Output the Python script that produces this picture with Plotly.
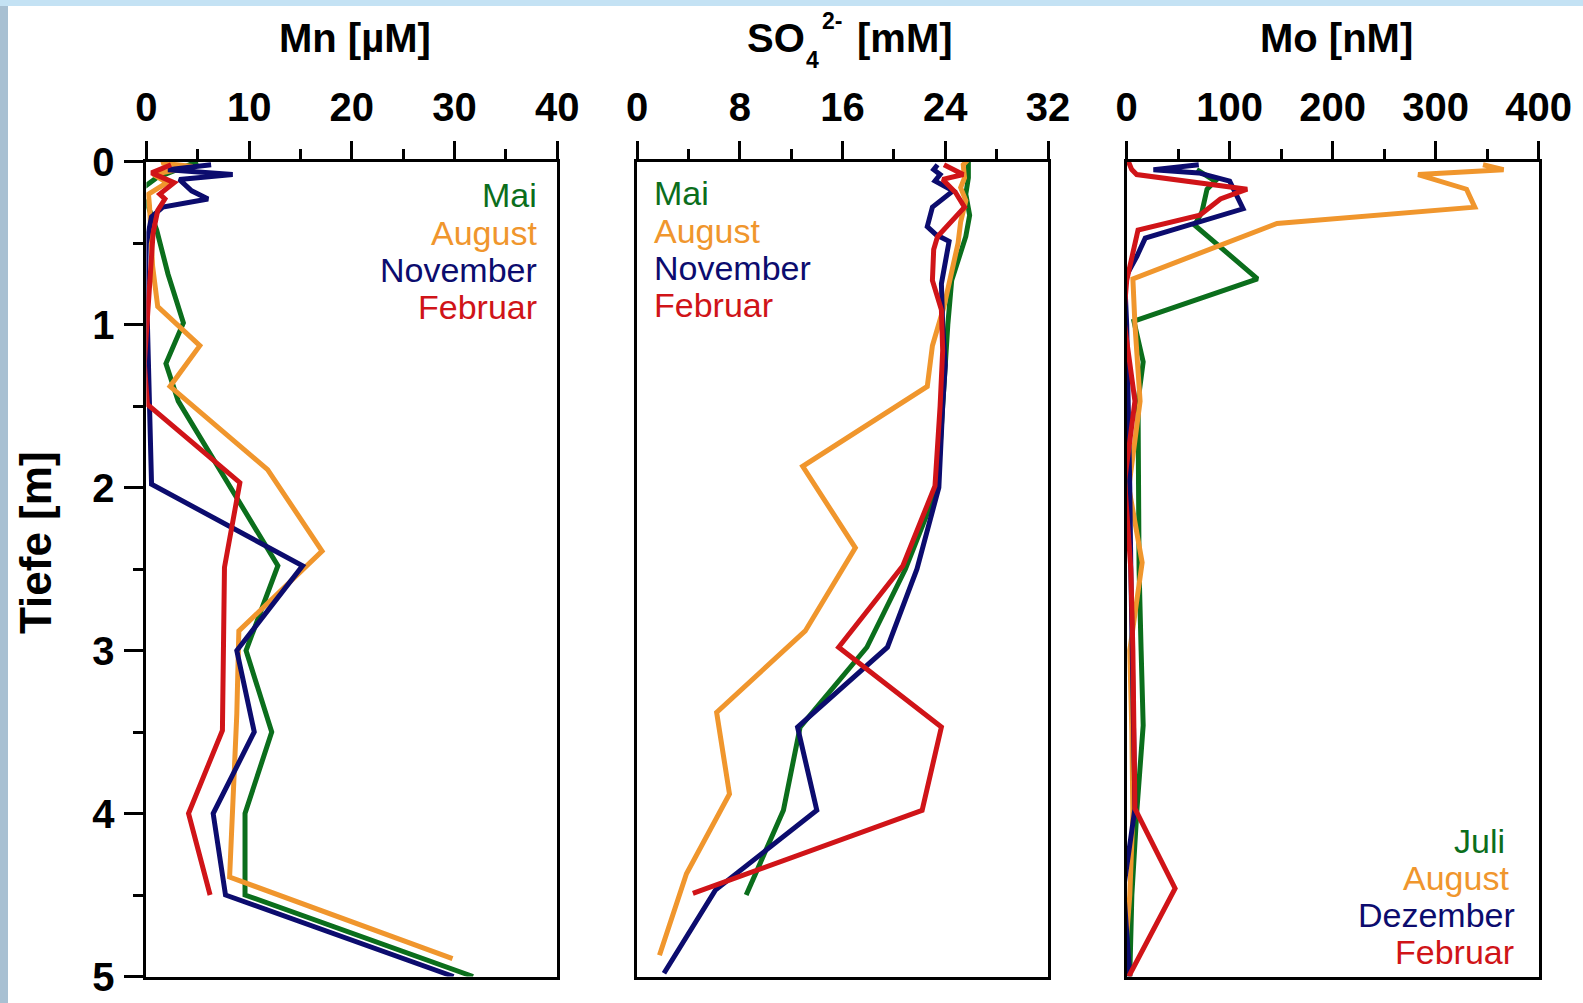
import plotly.graph_objects as go

W, H = 1583, 1003

# ---------------- colours ----------------
C_GREEN = "#0b6e1c"
C_ORANGE = "#f0962d"
C_NAVY = "#0c0c6e"
C_RED = "#d01418"

# ---------------- Mn [µM] ----------------
mn_mai_depth = [0.0, 0.1, 0.17, 0.23, 0.28, 0.42, 0.69, 0.99, 1.24, 1.47, 2.48, 3.0, 3.5, 4.0, 4.5, 5.0]
mn_mai = [5.0, 1.0, -0.5, -0.3, 0.2, 1.0, 2.1, 3.6, 1.9, 3.1, 12.8, 9.7, 12.2, 9.6, 9.6, 31.8]

mn_aug_depth = [-0.03, 0.01, 0.03, 0.08, 0.13, 0.2, 0.27, 0.64, 0.89, 1.13, 1.38, 1.89, 2.39, 2.88, 3.39, 3.89, 4.39, 4.89]
mn_aug = [2.3, 1.5, 4.5, 0.7, 2.0, 0.2, 0.3, 0.6, 1.1, 5.2, 2.3, 11.8, 17.1, 9.0, 8.8, 8.5, 8.1, 29.8]

mn_nov_depth = [0.02, 0.05, 0.08, 0.11, 0.18, 0.23, 0.28, 0.34, 0.5, 0.75, 1.0, 1.25, 1.5, 1.98, 2.48, 3.0, 3.5, 4.0, 4.5, 5.0]
mn_nov = [6.3, 2.1, 8.4, 3.2, 4.4, 6.0, 1.6, 0.5, 0.0, -0.1, 0.1, 0.2, 0.2, 0.5, 15.2, 8.8, 10.5, 6.5, 7.7, 29.9]

mn_feb_depth = [0.02, 0.07, 0.13, 0.2, 0.23, 0.3, 0.44, 0.75, 1.0, 1.24, 1.49, 1.97, 2.49, 3.0, 3.49, 4.0, 4.5]
mn_feb = [2.4, 0.5, 2.7, 1.3, 1.8, 1.1, 0.65, 0.3, 0.1, -0.2, 0.1, 9.1, 7.6, 7.5, 7.4, 4.1, 6.2]

# ---------------- SO4 [mM] ----------------
so4_mai_depth = [0.0, 0.1, 0.2, 0.33, 0.46, 0.73, 1.0, 1.25, 1.5, 2.0, 2.5, 2.98, 3.47, 3.98, 4.5]
so4_mai = [25.8, 25.8, 25.6, 25.9, 25.6, 24.5, 24.2, 24.0, 23.8, 23.4, 20.9, 17.9, 12.7, 11.4, 8.5]

so4_aug_depth = [-0.03, 0.02, 0.1, 0.16, 0.24, 0.37, 0.5, 0.64, 0.89, 1.13, 1.38, 1.87, 2.37, 2.88, 3.38, 3.88, 4.37, 4.87]
so4_aug = [26.0, 25.4, 25.5, 25.2, 25.6, 25.2, 25.0, 24.6, 23.9, 23.0, 22.6, 12.9, 17.0, 13.1, 6.2, 7.2, 3.85, 1.75]

so4_nov_depth = [0.02, 0.05, 0.08, 0.12, 0.18, 0.28, 0.4, 0.45, 0.49, 0.75, 1.0, 1.25, 1.5, 2.0, 2.5, 2.98, 3.47, 3.98, 4.47, 4.98]
so4_nov = [23.4, 23.1, 23.6, 23.2, 24.6, 23.0, 22.6, 23.3, 24.3, 23.7, 23.8, 24.0, 23.8, 23.5, 21.8, 19.5, 12.5, 14.0, 6.1, 2.1]

so4_feb_depth = [0.02, 0.08, 0.11, 0.19, 0.28, 0.46, 0.54, 0.73, 0.91, 1.16, 1.5, 1.99, 2.48, 2.98, 3.47, 3.98, 4.49]
so4_feb = [23.9, 25.4, 23.8, 24.8, 25.5, 23.4, 23.1, 23.0, 23.7, 23.8, 23.6, 23.2, 20.7, 15.7, 23.7, 22.2, 4.35]

# ---------------- Mo [nM] ----------------
mo_jul_depth = [0.05, 0.12, 0.17, 0.31, 0.39, 0.72, 0.98, 1.23, 1.47, 2.0, 2.5, 3.0, 3.46, 3.97, 4.5, 5.0]
mo_jul = [68, 86, 78, 73, 66, 127, 7, 16, 11, 11, 12, 14, 16, 10, 5, 3]

mo_aug_depth = [0.02, 0.05, 0.08, 0.17, 0.28, 0.38, 0.72, 1.0, 1.47, 2.0, 2.46, 3.0, 3.5, 4.0, 4.5, 5.0]
mo_aug = [346, 366, 283, 330, 338, 146, 6, 8, 13, 2, 15, 3, 5, 6, 3, -3]

mo_dez_depth = [0.02, 0.05, 0.07, 0.12, 0.29, 0.47, 0.58, 0.72, 1.0, 1.5, 2.0, 2.5, 3.0, 3.5, 3.97, 4.46, 5.0]
mo_dez = [70, 26, 70, 100, 113, 18, 10, -2, 0, 2, 3, 4, 5, 6, 8, -3, 3]

mo_feb_depth = [0.0, 0.05, 0.08, 0.17, 0.23, 0.33, 0.42, 0.73, 0.96, 1.47, 1.96, 2.5, 3.0, 3.5, 3.97, 4.46, 5.0]
mo_feb = [1.6, 4.9, 9.7, 117, 91, 71, 11, 0, -3, 8, -2, 4, 6, 7, 8, 47, 2]

# ---------------- axis settings ----------------
x_ranges = [[0, 40], [0, 32], [0, 400]]
x_dticks = [10, 8, 100]
y_range = [5, 0]
legend_left = ["Mai", "August", "November", "Februar"]
legend_right = ["Juli", "August", "Dezember", "Februar"]
legend_colors = [C_GREEN, C_ORANGE, C_NAVY, C_RED]


def px(x):
    return x / W


def py(y):
    return 1 - y / H


x_domains = [[px(146.4), px(557.3)], [px(637.0), px(1048.0)], [px(1126.7), px(1538.6)]]
y_domain = [py(976.5), py(161.5)]

fig = go.Figure()

series = [
    [(mn_mai, mn_mai_depth, C_GREEN), (mn_aug, mn_aug_depth, C_ORANGE),
     (mn_nov, mn_nov_depth, C_NAVY), (mn_feb, mn_feb_depth, C_RED)],
    [(so4_mai, so4_mai_depth, C_GREEN), (so4_aug, so4_aug_depth, C_ORANGE),
     (so4_nov, so4_nov_depth, C_NAVY), (so4_feb, so4_feb_depth, C_RED)],
    [(mo_jul, mo_jul_depth, C_GREEN), (mo_aug, mo_aug_depth, C_ORANGE),
     (mo_dez, mo_dez_depth, C_NAVY), (mo_feb, mo_feb_depth, C_RED)],
]

for i, panel in enumerate(series):
    xa = "x" if i == 0 else f"x{i+1}"
    ya = "y" if i == 0 else f"y{i+1}"
    for vals, depth, col in panel:
        fig.add_trace(go.Scatter(x=vals, y=depth, mode="lines", xaxis=xa, yaxis=ya,
                                 line=dict(color=col, width=5), showlegend=False,
                                 hoverinfo="skip"))

FONT = "Liberation Sans, Arial, sans-serif"
tickfont = dict(family=FONT, size=40, color="black", weight="bold")

layout = dict(width=W, height=H, margin=dict(l=0, r=0, t=0, b=0, autoexpand=False),
              paper_bgcolor="white", plot_bgcolor="white", showlegend=False)

for i in range(3):
    xk = "xaxis" if i == 0 else f"xaxis{i+1}"
    yk = "yaxis" if i == 0 else f"yaxis{i+1}"
    ya = "y" if i == 0 else f"y{i+1}"
    xa = "x" if i == 0 else f"x{i+1}"
    layout[xk] = dict(domain=x_domains[i], range=x_ranges[i], anchor=ya, side="top",
                      automargin=False,
                      dtick=x_dticks[i], tick0=0, ticks="outside", ticklen=18, tickwidth=3,
                      tickcolor="black", showline=True, linewidth=3, linecolor="black",
                      mirror=True, showgrid=False, zeroline=False, tickfont=tickfont,
                      ticklabelstandoff=4,
                      minor=dict(ticks="outside", ticklen=10, tickwidth=3, tickcolor="black",
                                 dtick=x_dticks[i] / 2, showgrid=False))
    ydict = dict(domain=y_domain, range=y_range, anchor=xa, showline=True, linewidth=3,
                 automargin=False,
                 linecolor="black", mirror=True, showgrid=False, zeroline=False)
    if i == 0:
        ydict.update(dict(dtick=1, tick0=0, ticks="outside", ticklen=19, tickwidth=3,
                          tickcolor="black", tickfont=tickfont, ticklabelstandoff=2,
                          minor=dict(ticks="outside", ticklen=10, tickwidth=3,
                                     tickcolor="black", dtick=0.5, showgrid=False)))
    else:
        ydict.update(dict(ticks="", showticklabels=False))
    layout[yk] = ydict

fig.update_layout(**layout)

# ---------------- titles ----------------
title_font = dict(family=FONT, size=40, color="black", weight="bold")
small_font = dict(family=FONT, size=23, color="black", weight="bold")
ann = []
ann.append(dict(text="Mn [µM]", x=px(355), y=py(38), xref="paper", yref="paper",
                showarrow=False, font=title_font, xanchor="center", yanchor="middle"))
ann.append(dict(text="SO", x=px(807), y=py(38), xref="paper", yref="paper",
                showarrow=False, font=title_font, xanchor="right", yanchor="middle"))
ann.append(dict(text="4", x=px(804), y=py(60), xref="paper", yref="paper",
                showarrow=False, font=small_font, xanchor="left", yanchor="middle"))
ann.append(dict(text="2-", x=px(820), y=py(21), xref="paper", yref="paper",
                showarrow=False, font=small_font, xanchor="left", yanchor="middle"))
ann.append(dict(text="[mM]", x=px(855), y=py(38), xref="paper", yref="paper",
                showarrow=False, font=title_font, xanchor="left", yanchor="middle"))
ann.append(dict(text="Mo [nM]", x=px(1336), y=py(38), xref="paper", yref="paper",
                showarrow=False, font=title_font, xanchor="center", yanchor="middle"))
ann.append(dict(text="Tiefe [m]", x=px(35), y=py(543), xref="paper", yref="paper",
                showarrow=False, font=dict(family=FONT, size=44, color="black", weight="bold"),
                textangle=-90, xanchor="center", yanchor="middle"))

# ---------------- legend texts ----------------
left_y = [195, 233, 270, 307]
for txt, col, yy in zip(legend_left, legend_colors, left_y):
    ann.append(dict(text=txt, x=px(539), y=py(yy), xref="paper", yref="paper", showarrow=False,
                    font=dict(family=FONT, size=34, color=col),
                    xanchor="right", yanchor="middle"))
    ann.append(dict(text=txt, x=px(652), y=py(yy - 2), xref="paper", yref="paper", showarrow=False,
                    font=dict(family=FONT, size=34, color=col),
                    xanchor="left", yanchor="middle"))
right_y = [841, 878, 915, 952]
right_x = [1507, 1511, 1517, 1516]
for txt, col, yy, xx in zip(legend_right, legend_colors, right_y, right_x):
    ann.append(dict(text=txt, x=px(xx), y=py(yy), xref="paper", yref="paper", showarrow=False,
                    font=dict(family=FONT, size=34, color=col),
                    xanchor="right", yanchor="middle"))

# ---------------- background strips (slide background) ----------------
shapes = [
    dict(type="rect", xref="paper", yref="paper", x0=0, x1=px(8), y0=0, y1=1,
         fillcolor="#a8c0d2", line=dict(width=0), layer="below"),
    dict(type="rect", xref="paper", yref="paper", x0=0, x1=1, y0=py(6), y1=1,
         fillcolor="#c4e2f4", line=dict(width=0), layer="below"),
]

fig.update_layout(annotations=ann, shapes=shapes)
fig.write_html("out.html",
               config={"displayModeBar": False, "staticPlot": True},
               post_script="document.body.style.margin='0px';document.body.style.overflow='hidden';")
